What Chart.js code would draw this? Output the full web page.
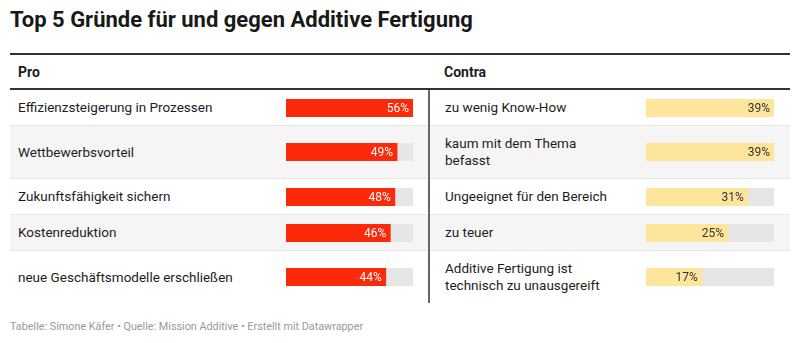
<!DOCTYPE html>
<html lang="de">
<head>
<meta charset="utf-8">
<script src="https://cdn.jsdelivr.net/npm/chart.js@4.4.1/dist/chart.umd.min.js"></script>
<style>
  body { margin:0; width:800px; height:343px; background:#fff; position:relative; overflow:hidden;
         font-family: Roboto, "Noto Sans", sans-serif; color:#1d1d1d; }
  h1 { position:absolute; left:10px; top:7px; margin:0; font-size:22px; line-height:26px; font-weight:700; color:#181818; }
  table { position:absolute; left:10px; top:53px; width:780px; border-collapse:collapse; table-layout:fixed;
          border-top:2px solid #333; }
  th { text-align:left; font-size:14px; font-weight:700; height:33px; padding:0 0 0 8px; border-bottom:2px solid #333; }
  th.right { padding-left:15px; }
  td { font-size:13.5px; line-height:17px; padding:9px 0 9px 8px; border-bottom:1px solid #e8e8e8; white-space:pre-line; vertical-align:middle; }
  tr:last-child td { border-bottom:none; }
  tr.alt td { background:#f5f5f5; }
  td.bar, td.gap { padding:0; }
  td.right { border-left:2px solid #666; padding-left:15px; }
  .cell { position:relative; height:18px; }
  .footer { position:absolute; left:10px; top:320px; font-size:10.8px; line-height:13px; color:#999; }
</style>
</head>
<body>
<h1>Top 5 Gründe für und gegen Additive Fertigung</h1>
<table id="tbl">
  <colgroup>
    <col style="width:276px"><col style="width:127px"><col style="width:16px">
    <col style="width:217px"><col style="width:128px"><col style="width:16px">
  </colgroup>
  <thead>
    <tr><th colspan="3">Pro</th><th colspan="3" class="right">Contra</th></tr>
  </thead>
  <tbody id="rows"></tbody>
</table>
<div class="footer">Tabelle: Simone Käfer • Quelle: Mission Additive • Erstellt mit Datawrapper</div>

<script>
// table data
var proLabels = [
    "Effizienzsteigerung in Prozessen",
    "Wettbewerbsvorteil",
    "Zukunftsfähigkeit sichern",
    "Kostenreduktion",
    "neue Geschäftsmodelle erschließen",
];
var proValues = [56, 49, 48, 46, 44];

var contraLabels = [
    "zu wenig Know-How",
    "kaum mit dem Thema\nbefasst",
    "Ungeeignet für den Bereich",
    "zu teuer",
    "Additive Fertigung ist\ntechnisch zu unausgereift",
];
var contraValues = [39, 39, 31, 25, 17];

var proColor = "#fb2a0b";
var contraColor = "#fde69c";
var trackColor = "#e6e6e6";

// prints the percentage at the right end of the filled bar
const valueLabel = {
    id: 'valueLabel',
    afterDatasetsDraw(chart, args, opts) {
        const bar = chart.getDatasetMeta(0).data[0];
        const ctx = chart.ctx;
        ctx.save();
        ctx.font = '12px Roboto, sans-serif';
        ctx.fillStyle = opts.color;
        ctx.textAlign = 'right';
        ctx.textBaseline = 'middle';
        ctx.fillText(chart.data.datasets[0].data[0] + '%', bar.x - 4, bar.y + 1);
        ctx.restore();
    }
};

function barChart(canvas, value, max, color, textColor) {
    return new Chart(canvas, {
        type: 'bar',
        data: {
            labels: [''],
            datasets: [
                { data: [value], backgroundColor: color, grouped: false, order: 1,
                  barPercentage: 1, categoryPercentage: 1 },
                { data: [max], backgroundColor: trackColor, grouped: false, order: 2,
                  barPercentage: 1, categoryPercentage: 1 }
            ]
        },
        options: {
            indexAxis: 'y',
            animation: false,
            responsive: true,
            maintainAspectRatio: false,
            events: [],
            plugins: {
                legend: { display: false },
                tooltip: { enabled: false },
                valueLabel: { color: textColor }
            },
            scales: {
                x: { display: false, min: 0, max: max },
                y: { display: false }
            }
        },
        plugins: [valueLabel]
    });
}

const rows = document.getElementById("rows");
const proMax = Math.max(...proValues);
const contraMax = Math.max(...contraValues);

for (let i = 0; i < proLabels.length; i++) {
    const tr = document.createElement("tr");
    if (i % 2 === 1) tr.className = "alt";
    tr.innerHTML =
        '<td></td><td class="bar"><div class="cell"><canvas></canvas></div></td><td class="gap"></td>' +
        '<td class="right"></td><td class="bar"><div class="cell"><canvas></canvas></div></td><td class="gap"></td>';
    const cells = tr.querySelectorAll("td");
    cells[0].textContent = proLabels[i];
    cells[3].textContent = contraLabels[i];
    rows.appendChild(tr);

    const canvases = tr.querySelectorAll("canvas");
    barChart(canvases[0], proValues[i], proMax, proColor, "#ffffff");
    barChart(canvases[1], contraValues[i], contraMax, contraColor, "#333333");
}
</script>
</body>
</html>
